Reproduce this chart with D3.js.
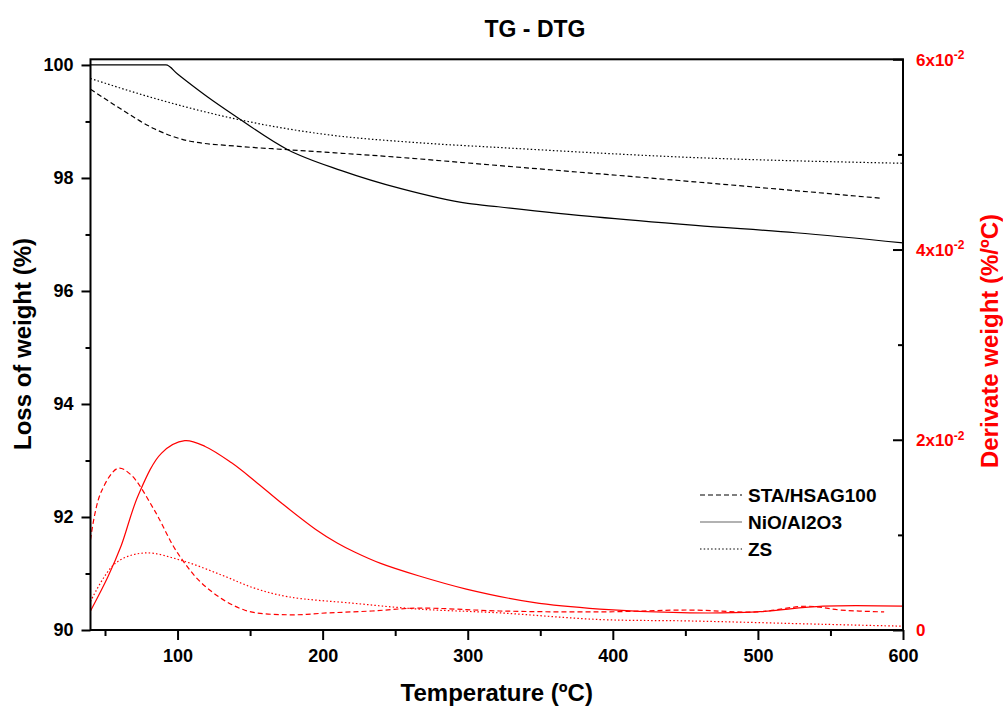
<!DOCTYPE html>
<html>
<head>
<meta charset="utf-8">
<script src="https://cdn.jsdelivr.net/npm/d3@7"></script>
<style>
  body { margin: 0; background: #fff; }
  svg { font-family: "Liberation Sans", Arial, sans-serif; font-weight: bold; }
</style>
</head>
<body>
<div id="chart"></div>
<script>
// TG curves (loss of weight, %)
const staT = [40, 61, 84, 107, 142, 176, 245, 321, 457, 585];
const staTG = [99.57, 99.22, 98.87, 98.66, 98.56, 98.5, 98.38, 98.22, 97.93, 97.64];

const nioT = [40, 92, 100, 107, 121, 139, 176, 213, 254, 300, 321, 388, 457, 526, 600];
const nioTG = [100, 100, 99.84, 99.7, 99.43, 99.11, 98.5, 98.13, 97.81, 97.55, 97.49, 97.31, 97.16, 97.03, 96.85];

const zsT = [40, 84, 139, 199, 268, 321, 457, 600];
const zsTG = [99.76, 99.41, 99.05, 98.78, 98.62, 98.54, 98.36, 98.26];

// DTG curves (derivate weight, %/ºC)
const staDT = [40, 47, 59, 68, 84, 100, 119, 146, 176, 204, 234, 266, 322, 391, 453, 499, 534, 557, 587];
const staDTG = [0.0095, 0.0144, 0.017, 0.0163, 0.0126, 0.0081, 0.0046, 0.0021, 0.0016, 0.0018, 0.002, 0.0023, 0.002, 0.0019, 0.0021, 0.0019, 0.0025, 0.0021, 0.0019];

const nioDT = [40, 52, 61, 73, 89, 105, 119, 137, 153, 172, 195, 210, 222, 240, 266, 299, 345, 391, 453, 499, 545, 600];
const nioDTG = [0.002, 0.0056, 0.0088, 0.0142, 0.0186, 0.0199, 0.0193, 0.0176, 0.0157, 0.0133, 0.0106, 0.00915, 0.0082, 0.007, 0.0057, 0.0043, 0.0029, 0.0022, 0.0018, 0.0019, 0.0025, 0.0025];

const zsDT = [40, 57, 77, 103, 130, 153, 176, 222, 266, 322, 391, 453, 545, 600];
const zsDTG = [0.003, 0.007, 0.0081, 0.0073, 0.0058, 0.0044, 0.0035, 0.0028, 0.0022, 0.0018, 0.0011, 0.00095, 0.0006, 0.0004];

const tempTicks = [100, 200, 300, 400, 500, 600];
const tempMinor = [50, 150, 250, 350, 450, 550];
const weightTicks = [90, 92, 94, 96, 98, 100];
const weightMinor = [91, 93, 95, 97, 99];
const dtgTicks = [0, 0.02, 0.04, 0.06];
const dtgMinor = [0.01, 0.03, 0.05];
const dtgLabels = ["0", "2x10", "4x10", "6x10"];

const seriesNames = ["STA/HSAG100", "NiO/Al2O3", "ZS"];
const dashes = ["5,3", null, "1.5,2.2"];

const W = 1003, H = 706;
const plotL = 90.5, plotR = 903, plotT = 59.3, plotB = 630;

const svg = d3.select("#chart").append("svg").attr("width", W).attr("height", H);

const x = d3.scaleLinear().domain([40, 600]).range([plotL, plotR]);
const y = d3.scaleLinear().domain([90, 100.1]).range([plotB, plotT]);
const y2 = d3.scaleLinear().domain([0, 0.06]).range([plotB, plotT]);

// curves
const toPts = (ts, vs) => ts.map((t, i) => [t, vs[i]]);
const tgLine = d3.line().x(d => x(d[0])).y(d => y(d[1])).curve(d3.curveMonotoneX);
const dtgLine = d3.line().x(d => x(d[0])).y(d => y2(d[1])).curve(d3.curveCatmullRom.alpha(0.5));

const tgData = [toPts(staT, staTG), toPts(nioT, nioTG), toPts(zsT, zsTG)];
const dtgData = [toPts(staDT, staDTG), toPts(nioDT, nioDTG), toPts(zsDT, zsDTG)];

svg.selectAll(".tg")
  .data(tgData)
  .enter()
  .append("path")
  .attr("class", "tg")
  .attr("d", tgLine)
  .attr("fill", "none")
  .attr("stroke", "#000")
  .attr("stroke-width", 1.2)
  .attr("stroke-dasharray", (d, i) => dashes[i]);

svg.selectAll(".dtg")
  .data(dtgData)
  .enter()
  .append("path")
  .attr("class", "dtg")
  .attr("d", dtgLine)
  .attr("fill", "none")
  .attr("stroke", "#ff0000")
  .attr("stroke-width", 1.2)
  .attr("stroke-dasharray", (d, i) => dashes[i]);

// frame
svg.append("rect")
  .attr("x", plotL).attr("y", plotT)
  .attr("width", plotR - plotL).attr("height", plotB - plotT)
  .attr("fill", "none").attr("stroke", "#000").attr("stroke-width", 2);

// left axis
const gl = svg.append("g").attr("transform", `translate(${plotL},0)`);
gl.call(d3.axisLeft(y).tickValues(weightTicks).tickSize(9).tickPadding(8));
gl.append("g").call(d3.axisLeft(y).tickValues(weightMinor).tickSize(5).tickFormat(""));
gl.selectAll(".domain").remove();
gl.selectAll("line").attr("stroke-width", 2);
gl.selectAll("text").style("font-size", "18px").attr("fill", "#000");

// bottom axis
const gb = svg.append("g").attr("transform", `translate(0,${plotB})`);
gb.call(d3.axisBottom(x).tickValues(tempTicks).tickSize(10).tickPadding(9));
gb.append("g").call(d3.axisBottom(x).tickValues(tempMinor).tickSize(6).tickFormat(""));
gb.selectAll(".domain").remove();
gb.selectAll("line").attr("stroke-width", 2);
gb.selectAll("text").style("font-size", "18px").attr("fill", "#000");

// right axis (ticks pointing inside)
const gr = svg.append("g").attr("transform", `translate(${plotR},0)`);
gr.call(d3.axisRight(y2).tickValues(dtgTicks).tickSize(-10).tickPadding(13).tickFormat(""));
gr.append("g").call(d3.axisRight(y2).tickValues(dtgMinor).tickSize(-5).tickFormat(""));
gr.selectAll(".domain").remove();
gr.selectAll("line").attr("stroke-width", 2);
gr.selectAll(".tick text").each(function (d) {
  const t = d3.select(this).style("font-size", "17px").attr("fill", "#ff0000").attr("dy", "0.35em");
  const i = dtgTicks.indexOf(d);
  if (i < 0) return;
  t.append("tspan").text(dtgLabels[i]);
  if (d !== 0) {
    t.append("tspan").text("-2").style("font-size", "12px").attr("dy", "-0.55em");
  }
});

// titles
svg.append("text")
  .attr("x", 535).attr("y", 37)
  .attr("text-anchor", "middle")
  .style("font-size", "23px")
  .text("TG - DTG");

svg.append("text")
  .attr("x", (plotL + plotR) / 2).attr("y", 701)
  .attr("text-anchor", "middle")
  .style("font-size", "24px")
  .text("Temperature (ºC)");

svg.append("text")
  .attr("transform", `translate(31,344) rotate(-90)`)
  .attr("text-anchor", "middle")
  .style("font-size", "24px")
  .text("Loss of weight (%)");

svg.append("text")
  .attr("transform", `translate(998,341) rotate(-90)`)
  .attr("text-anchor", "middle")
  .attr("fill", "#ff0000")
  .style("font-size", "24px")
  .text("Derivate weight (%/ºC)");

// legend
const legend = svg.selectAll(".legend")
  .data(seriesNames)
  .enter()
  .append("g")
  .attr("class", "legend")
  .attr("transform", (d, i) => `translate(700,${495 + i * 27})`);

legend.append("line")
  .attr("x1", 0).attr("x2", 42)
  .attr("stroke", (d, i) => (i === 1 ? "#666" : "#000"))
  .attr("stroke-width", 1.2)
  .attr("stroke-dasharray", (d, i) => dashes[i]);

legend.append("text")
  .attr("x", 48).attr("dy", "0.35em")
  .style("font-size", "19px")
  .text(d => d);
</script>
</body>
</html>
